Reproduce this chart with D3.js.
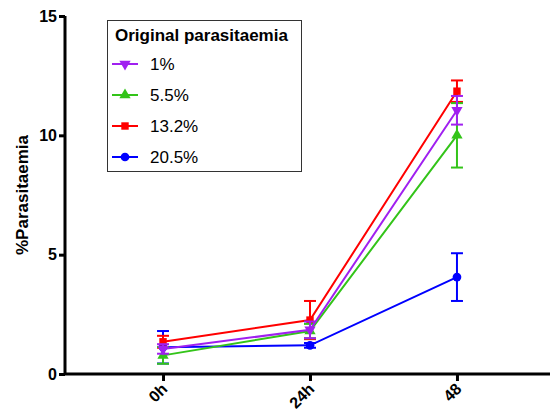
<!DOCTYPE html>
<html>
<head>
<meta charset="utf-8">
<script src="https://cdn.jsdelivr.net/npm/d3@7"></script>
<style>
  body { margin: 0; background: #fff; }
  text { font-family: "Liberation Sans", Arial, sans-serif; }
</style>
</head>
<body>
<div id="chart"></div>
<script>
// Time points and tick labels
const timeLabels = ["0h", "24h", "48"];
const yTicks = [0, 5, 10, 15];

// Series (mean and SD)
const seriesNames = ["1%", "5.5%", "13.2%", "20.5%"];
const seriesColors = ["#a020f0", "#33c419", "#ff0000", "#0000ff"];
const seriesSymbols = ["down", "up", "square", "circle"];
const meanOnePct = [1.05, 1.85, 11.05];
const sdOnePct = [0.2, 0.35, 0.6];
const meanFivePct = [0.78, 1.8, 10.0];
const sdFivePct = [0.35, 0.3, 1.35];
const meanThirteenPct = [1.35, 2.26, 11.85];
const sdThirteenPct = [0.25, 0.8, 0.45];
const meanTwentyPct = [1.12, 1.2, 4.06];
const sdTwentyPct = [0.68, 0.1, 1.0];

const means = [meanOnePct, meanFivePct, meanThirteenPct, meanTwentyPct];
const sds = [sdOnePct, sdFivePct, sdThirteenPct, sdTwentyPct];

function drawChart() {
  const width = 550, height = 414;
  const svg = d3.select("#chart").append("svg")
      .attr("width", width)
      .attr("height", height);

  const x = d3.scaleLinear().domain([-0.667, 2.633]).range([65, 550]);
  const y = d3.scaleLinear().domain([0, 15]).range([374, 16]);

  // Series drawn back to front so purple sits on top like the original
  const order = [3, 2, 1, 0];
  order.forEach(s => {
    const g = svg.append("g");
    const color = seriesColors[s];
    const pts = means[s].map((m, i) => ({ i: i, m: m, sd: sds[s][i] }));

    g.append("path")
        .datum(pts)
        .attr("fill", "none")
        .attr("stroke", color)
        .attr("stroke-width", 2)
        .attr("d", d3.line().x(d => x(d.i)).y(d => y(d.m)));

    pts.forEach(d => {
      const cx = x(d.i);
      g.append("line")
          .attr("x1", cx).attr("x2", cx)
          .attr("y1", y(d.m - d.sd)).attr("y2", y(d.m + d.sd))
          .attr("stroke", color).attr("stroke-width", 2);
      [d.m - d.sd, d.m + d.sd].forEach(v => {
        g.append("line")
            .attr("x1", cx - 6).attr("x2", cx + 6)
            .attr("y1", y(v)).attr("y2", y(v))
            .attr("stroke", color).attr("stroke-width", 2);
      });
      drawSymbol(g, seriesSymbols[s], cx, y(d.m), color);
    });
  });

  // Axes
  const yAxis = svg.append("g")
      .attr("transform", "translate(65,0)")
      .call(d3.axisLeft(y).tickValues(yTicks).tickSize(6).tickPadding(2));
  const xAxis = svg.append("g")
      .attr("transform", "translate(0,374)")
      .call(d3.axisBottom(x).tickValues([0, 1, 2]).tickFormat(i => timeLabels[i]).tickSize(7));

  [yAxis, xAxis].forEach(a => {
    a.select(".domain").attr("stroke", "#000").attr("stroke-width", 3);
    a.selectAll(".tick line").attr("stroke", "#000").attr("stroke-width", 3);
    a.selectAll("text")
        .attr("font-family", "'Liberation Sans', Arial, sans-serif")
        .attr("font-size", 16)
        .attr("font-weight", "bold")
        .attr("fill", "#000");
  });
  yAxis.select(".domain").attr("d", "M0,16V374");
  xAxis.select(".domain").attr("d", "M65,0H550");

  xAxis.selectAll(".tick text")
      .attr("text-anchor", "end")
      .attr("dy", null)
      .attr("y", 0)
      .attr("transform", "translate(5,16) rotate(-45)");

  svg.append("text")
      .attr("transform", "translate(28,195) rotate(-90)")
      .attr("text-anchor", "middle")
      .attr("font-size", 17)
      .attr("font-weight", "bold")
      .text("%Parasitaemia");

  // Legend
  const legend = svg.append("g");
  legend.append("rect")
      .attr("x", 107.5).attr("y", 20.5)
      .attr("width", 194).attr("height", 151)
      .attr("fill", "#fff")
      .attr("stroke", "#333").attr("stroke-width", 1);
  legend.append("text")
      .attr("x", 115).attr("y", 41)
      .attr("font-size", 17)
      .attr("font-weight", "bold")
      .text("Original parasitaemia");
  seriesNames.forEach((name, s) => {
    const ly = 64 + s * 31;
    legend.append("line")
        .attr("x1", 112).attr("x2", 138)
        .attr("y1", ly).attr("y2", ly)
        .attr("stroke", seriesColors[s]).attr("stroke-width", 2);
    drawSymbol(legend, seriesSymbols[s], 125, ly, seriesColors[s]);
    legend.append("text")
        .attr("x", 150).attr("y", ly + 6)
        .attr("font-size", 17)
        .text(name);
  });
}

function drawSymbol(g, kind, cx, cy, color) {
  const typeMap = {
    circle: d3.symbolCircle,
    square: d3.symbolSquare,
    up: d3.symbolTriangle,
    down: d3.symbolTriangle
  };
  g.append("path")
      .attr("d", d3.symbol().type(typeMap[kind]).size(kind === "circle" ? 60 : 55)())
      .attr("transform", `translate(${cx},${cy})` + (kind === "down" ? " rotate(180)" : ""))
      .attr("fill", color);
}

drawChart();
</script>
</body>
</html>
